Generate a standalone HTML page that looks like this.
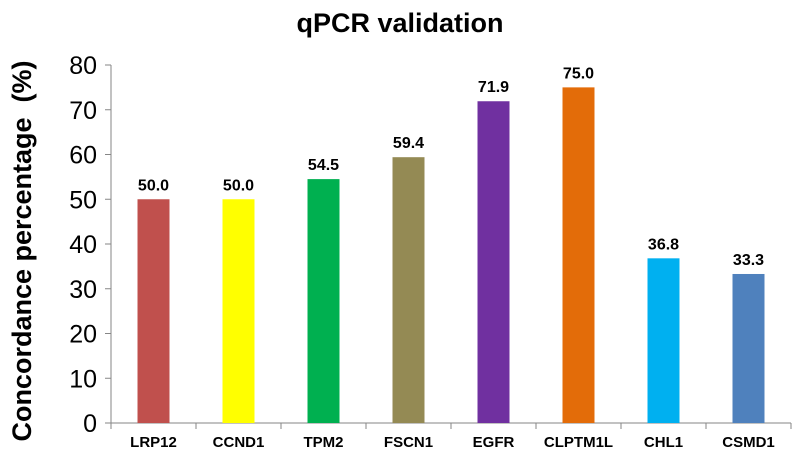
<!DOCTYPE html>
<html><head><meta charset="utf-8"><style>
body{margin:0;background:#fff;}
svg{display:block;font-family:"Liberation Sans",Arial,sans-serif;}
</style></head><body>
<svg id="chart" width="800" height="457">
<text x="400" y="32" text-anchor="middle" font-size="27" font-weight="bold" fill="#000">qPCR validation</text>
<text transform="translate(31,251) rotate(-90)" text-anchor="middle" font-size="27" font-weight="bold" fill="#000">Concordance percentage&#160;&#160;(%)</text>
<g id="g"></g>
</svg>
<script>
const categories=["LRP12","CCND1","TPM2","FSCN1","EGFR","CLPTM1L","CHL1","CSMD1"];
const values=[50.0,50.0,54.5,59.4,71.9,75.0,36.8,33.3];
const labels=["50.0","50.0","54.5","59.4","71.9","75.0","36.8","33.3"];
const colors=["#C0504D","#FFFF00","#00B050","#948A54","#7030A0","#E36C09","#00B0F0","#4F81BD"];
const yTicks=[0,10,20,30,40,50,60,70,80];
const x0=111,x1=791,yTop=65,yBot=423,yMax=80;
const ns="http://www.w3.org/2000/svg";
const g=document.getElementById('g');
const y=v=>yBot-(v/yMax)*(yBot-yTop);
const step=(x1-x0)/categories.length;
const xc=i=>x0+step*(i+0.5);
function mk(t,a){const e=document.createElementNS(ns,t);for(const k in a)e.setAttribute(k,a[k]);g.appendChild(e);return e;}
let ax=mk('line',{x1:x0,y1:yTop,x2:x0,y2:yBot,stroke:'#868686','stroke-width':1});


let bx=mk('line',{x1:x0,y1:yBot,x2:x1,y2:yBot,stroke:'#868686','stroke-width':1});


yTicks.forEach(t=>{
 let tk=mk('line',{x1:x0-6,y1:y(t),x2:x0,y2:y(t),stroke:'#868686'});
 
 
 let tl=mk('text',{x:97,y:y(t)+9,'text-anchor':'end','font-size':25,fill:'#000'});
 tl.textContent=t;
 
 
});
for(let i=0;i<=categories.length;i++){
 let tk=mk('line',{x1:x0+step*i,y1:yBot,x2:x0+step*i,y2:yBot+6,stroke:'#868686'});
 
 
}
categories.forEach((c,i)=>{
 const w=32;
 let r=mk('rect',{x:xc(i)-w/2,y:y(values[i]),width:w,height:yBot-y(values[i]),fill:colors[i]});
 
 
 let v=mk('text',{x:xc(i),y:y(values[i])-9,'text-anchor':'middle','font-size':16,'font-weight':'bold',fill:'#000'});
 v.textContent=labels[i];
 
 
 let l=mk('text',{x:xc(i),y:447,'text-anchor':'middle','font-size':15,'font-weight':'bold',fill:'#000'});
 l.textContent=c;
 
 
});
</script>
</body></html>
